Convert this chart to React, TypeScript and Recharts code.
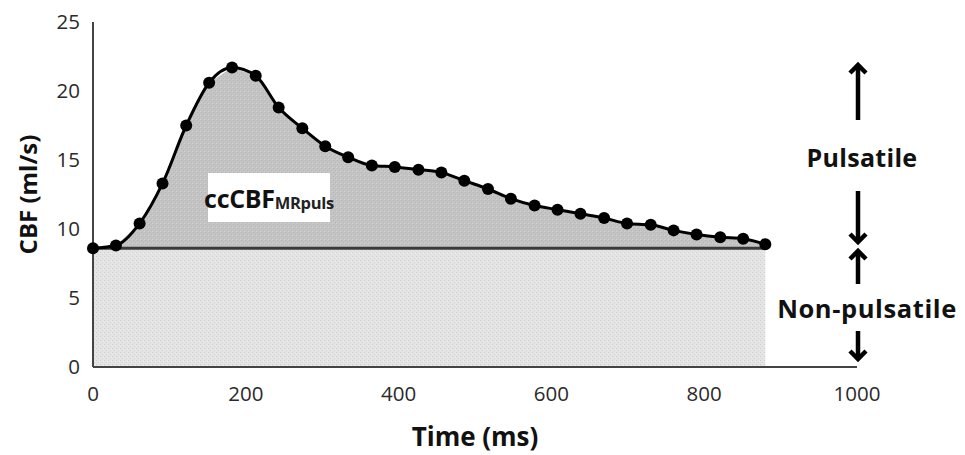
import { ComposedChart, Area, Line, XAxis, YAxis } from "recharts";

// Cerebral blood flow over one cardiac cycle
const timeMs = [
  0, 30, 61, 91, 122, 152, 182, 213, 243, 274, 304, 334, 365, 395, 426,
  456, 486, 517, 547, 578, 608, 638, 669, 699, 730, 760, 790, 821, 851, 880,
];
const cbf = [
  8.6, 8.8, 10.4, 13.3, 17.5, 20.6, 21.7, 21.1, 18.8, 17.3, 16.0, 15.2, 14.6, 14.5, 14.3,
  14.1, 13.5, 12.9, 12.2, 11.7, 11.4, 11.1, 10.8, 10.4, 10.3, 9.9, 9.6, 9.4, 9.3, 8.9,
];
// non-pulsatile (steady) flow level
const baseFlow = 8.6;

const xTicks = [0, 200, 400, 600, 800, 1000];
const yTicks = [0, 5, 10, 15, 20, 25];

const rows = timeMs.map((t, i) => ({ t, flow: cbf[i], base: baseFlow }));

const font = "'Open Sans', 'Noto Sans', sans-serif";
const tickStyle = { fill: "#2a2a2a", fontSize: 20.5, fontFamily: font };

function UpArrow({ x, top, bottom }: { x: number; top: number; bottom: number }) {
  return (
    <g stroke="#000" strokeWidth={4.5} fill="none">
      <line x1={x} y1={top + 3} x2={x} y2={bottom} />
      <polyline points={`${x - 8},${top + 11} ${x},${top + 3} ${x + 8},${top + 11}`} />
    </g>
  );
}

function DownArrow({ x, top, bottom }: { x: number; top: number; bottom: number }) {
  return (
    <g stroke="#000" strokeWidth={4.5} fill="none">
      <line x1={x} y1={top} x2={x} y2={bottom - 3} />
      <polyline points={`${x - 8},${bottom - 11} ${x},${bottom - 3} ${x + 8},${bottom - 11}`} />
    </g>
  );
}

export default function App() {
  return (
    <div style={{ position: "absolute", left: 0, top: 0, width: 965, height: 455, background: "#fff" }}>
      <ComposedChart
        width={965}
        height={455}
        data={rows}
        margin={{ top: 22, right: 108, left: 0, bottom: 0 }}
      >
        <defs>
          <pattern id="lightGrain" width="4" height="4" patternUnits="userSpaceOnUse">
            <rect width="4" height="4" fill="#e4e4e4" />
            <rect x="0" y="0" width="1" height="1" fill="#d0d0d0" />
            <rect x="2" y="2" width="1" height="1" fill="#d4d4d4" />
            <rect x="3" y="1" width="1" height="1" fill="#efefef" />
          </pattern>
          <pattern id="darkGrain" width="4" height="4" patternUnits="userSpaceOnUse">
            <rect width="4" height="4" fill="#c4c4c4" />
            <rect x="1" y="0" width="1" height="1" fill="#b2b2b2" />
            <rect x="3" y="2" width="1" height="1" fill="#b6b6b6" />
            <rect x="0" y="3" width="1" height="1" fill="#d0d0d0" />
          </pattern>
        </defs>
        <XAxis
          dataKey="t"
          type="number"
          domain={[0, 1000]}
          ticks={xTicks}
          height={88}
          tickSize={0}
          tickMargin={19}
          tick={tickStyle}
          axisLine={{ stroke: "#444", strokeWidth: 2 }}
          tickLine={false}
          label={{
            value: "Time (ms)",
            position: "insideBottom",
            offset: 9,
            style: { fill: "#111", fontSize: 26, fontWeight: 700, fontFamily: font },
          }}
        />
        <YAxis
          type="number"
          domain={[0, 25]}
          ticks={yTicks}
          width={93}
          tickSize={0}
          tickMargin={13}
          tick={tickStyle}
          axisLine={{ stroke: "#444", strokeWidth: 2 }}
          tickLine={false}
          label={{
            value: "CBF (ml/s)",
            angle: -90,
            position: "insideLeft",
            offset: 28,
            style: { fill: "#111", fontSize: 24, fontWeight: 700, fontFamily: font, textAnchor: "middle" },
          }}
        />
        <Area
          type="linear"
          dataKey="base"
          stroke="none"
          fill="url(#lightGrain)"
          fillOpacity={1}
          isAnimationActive={false}
        />
        <Area
          type="linear"
          dataKey={(d: { base: number; flow: number }) => [d.base, d.flow]}
          stroke="none"
          fill="url(#darkGrain)"
          fillOpacity={1}
          isAnimationActive={false}
        />
        <Line
          type="linear"
          dataKey="base"
          stroke="#3a3a3a"
          strokeWidth={3}
          dot={false}
          isAnimationActive={false}
        />
        <Line
          type="monotone"
          dataKey="flow"
          stroke="#000"
          strokeWidth={3}
          dot={{ r: 6, fill: "#000", stroke: "#000", strokeWidth: 0 }}
          isAnimationActive={false}
        />
      </ComposedChart>

      {/* annotation box inside the pulsatile area */}
      <div
        style={{
          position: "absolute",
          left: 208,
          top: 173,
          width: 122,
          height: 49,
          background: "#fff",
          fontFamily: font,
          fontWeight: 700,
          color: "#111",
          display: "flex",
          alignItems: "center",
          justifyContent: "center",
          whiteSpace: "nowrap",
        }}
      >
        <span style={{ fontSize: 25, letterSpacing: -0.3 }}>ccCBF</span>
        <span style={{ fontSize: 16.5, position: "relative", top: 5, color: "#222", letterSpacing: -0.3 }}>MRpuls</span>
      </div>

      {/* component labels at the right */}
      <svg width={965} height={455} style={{ position: "absolute", left: 0, top: 0, pointerEvents: "none" }}>
        <UpArrow x={858} top={62} bottom={120} />
        <DownArrow x={858} top={191} bottom={245} />
        <UpArrow x={858} top={248} bottom={284} />
        <DownArrow x={858} top={331} bottom={362} />
        <text x={862} y={157} textAnchor="middle" dominantBaseline="central" fontFamily={font} fontWeight={700} fontSize={25} letterSpacing={0.3} fill="#111">
          Pulsatile
        </text>
        <text x={867} y={308} textAnchor="middle" dominantBaseline="central" fontFamily={font} fontWeight={700} fontSize={25.5} letterSpacing={0.6} fill="#111">
          Non-pulsatile
        </text>
      </svg>
    </div>
  );
}
